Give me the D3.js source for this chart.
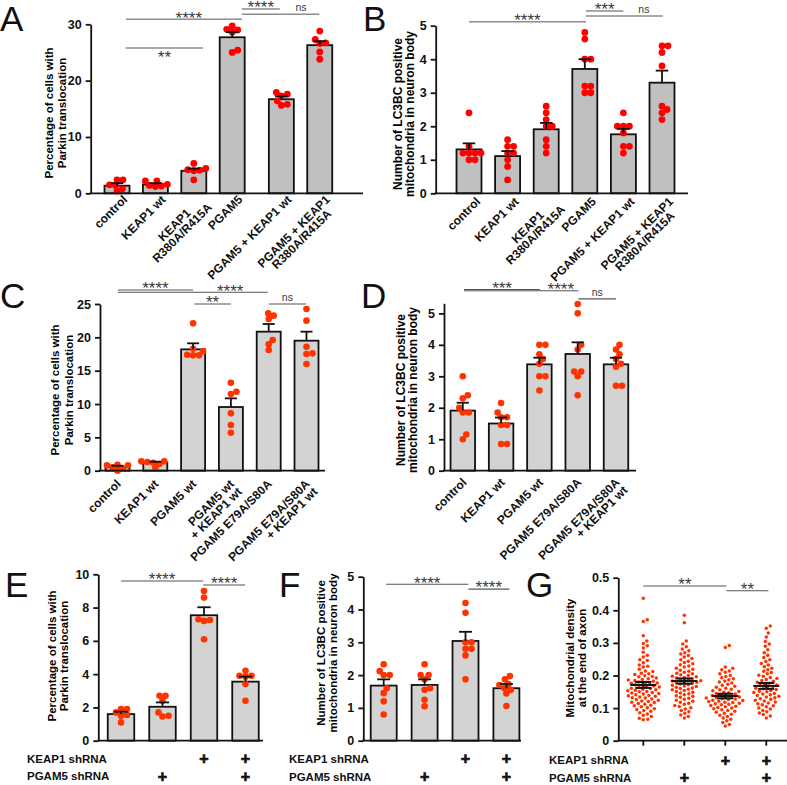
<!DOCTYPE html>
<html>
<head>
<meta charset="utf-8">
<script src="https://cdn.jsdelivr.net/npm/d3@7"></script>
<style>
  body { margin: 0; background: #fff; }
  svg { font-family: "Liberation Sans", Arial, sans-serif; }
</style>
</head>
<body>
<svg width="787" height="785"></svg>
<script>
"use strict";

// ---------- data ----------
var catsAB = ["control", "KEAP1 wt", "KEAP1\nR380A/R415A", "PGAM5", "PGAM5 + KEAP1 wt", "PGAM5 + KEAP1\nR380A/R415A"];
var catsCD = ["control", "KEAP1 wt", "PGAM5 wt", "PGAM5 wt\n+ KEAP1 wt", "PGAM5 E79A/S80A", "PGAM5 E79A/S80A\n+ KEAP1 wt"];
var catsD  = ["control", "KEAP1 wt", "PGAM5 wt", "PGAM5 E79A/S80A", "PGAM5 E79A/S80A\n+ KEAP1 wt"];
var keap1Sh = ["", "", "+", "+"];
var pgam5Sh = ["", "+", "", "+"];

var meanA = [1.35, 1.55, 4.0, 27.7, 16.7, 26.3];
var semA  = [0.45, 0.25, 0.4, 0.9, 0.5, 0.7];
var dotsA = [
  [1.5, 2.4, 2.4, 1.4, 0.8, 0.4],
  [1.6, 2.2, 2.2, 1.4, 1.3, 1.2],
  [4.2, 4.4, 4.1, 5.3, 2.4, 4.0],
  [29.1, 29.0, 28.6, 29.7, 25.4, 25.0],
  [17.3, 17.6, 17.9, 16.4, 15.8, 15.6],
  [28.8, 27.3, 26.7, 26.6, 25.1, 23.8]
];

var meanB = [1.31, 1.11, 1.91, 3.71, 1.76, 3.3];
var semB  = [0.18, 0.15, 0.19, 0.29, 0.16, 0.36];
var dotsB = [
  [2.4, 1.4, 1.2, 1.2, 1.2, 1.2, 1.0, 1.0],
  [1.6, 1.4, 1.4, 1.2, 1.2, 1.0, 0.8, 0.4],
  [2.6, 2.4, 2.2, 2.0, 2.0, 1.6, 1.4, 1.2],
  [4.8, 4.6, 4.0, 4.0, 3.2, 3.2, 3.0, 3.0],
  [2.4, 2.0, 2.0, 2.0, 1.8, 1.4, 1.4, 1.2],
  [4.4, 4.4, 4.2, 3.8, 2.6, 2.5, 2.4, 2.2]
];

var meanC = [0.6, 1.2, 18.2, 9.55, 20.85, 19.5];
var semC  = [0.15, 0.15, 0.9, 1.3, 1.15, 1.35];
var dotsC = [
  [0.9, 0.5, 0.8, 0.3, 0.0, 0.8],
  [1.0, 1.4, 1.3, 1.2, 1.4, 0.4],
  [22.1, 18.3, 17.9, 17.3, 17.3, 17.4],
  [13.2, 11.85, 11.5, 8.6, 6.85, 5.7],
  [23.25, 22.75, 23.6, 19.6, 18.95, 18.1],
  [24.25, 22.5, 18.6, 17.6, 17.5, 16.0]
];

var meanD = [1.91, 1.5, 3.38, 3.71, 3.38];
var semD  = [0.25, 0.19, 0.21, 0.37, 0.21];
var dotsD = [
  [3.0, 2.4, 2.3, 2.0, 1.85, 1.85, 1.15, 1.0],
  [2.15, 1.85, 1.7, 1.7, 1.45, 1.45, 0.85, 0.85],
  [4.0, 4.0, 3.7, 3.55, 3.4, 3.0, 3.0, 2.55],
  [5.3, 5.0, 4.0, 3.85, 3.15, 3.15, 3.0, 2.4],
  [4.0, 3.85, 3.7, 3.55, 3.4, 3.3, 2.7, 2.7]
];

var meanE = [1.6, 2.04, 7.54, 3.55];
var semE  = [0.14, 0.26, 0.48, 0.3];
var dotsE = [
  [1.9, 1.9, 1.7, 1.55, 1.5, 1.1],
  [2.7, 2.7, 2.4, 1.7, 1.5, 1.45],
  [9.0, 8.6, 7.3, 7.25, 7.2, 6.1],
  [4.2, 3.9, 3.9, 3.85, 3.4, 2.4]
];

var meanF = [1.68, 1.7, 3.04, 1.6];
var semF  = [0.19, 0.17, 0.28, 0.13];
var dotsF = [
  [2.33, 2.12, 2.0, 2.0, 1.6, 1.45, 1.2, 0.8],
  [2.33, 2.0, 2.0, 1.87, 1.6, 1.55, 1.25, 1.05],
  [4.2, 3.9, 3.0, 3.0, 2.8, 2.8, 2.6, 1.87],
  [1.97, 1.87, 1.73, 1.7, 1.6, 1.55, 1.44, 1.06]
];

var meanG = [0.171, 0.183, 0.137, 0.168];
var semG  = [0.009, 0.008, 0.007, 0.009];
var dotsG = [
  [0.437, 0.371, 0.366, 0.322, 0.306, 0.298, 0.291, 0.284, 0.271, 0.262, 0.257, 0.248, 0.246, 0.239,
   0.232, 0.228, 0.226, 0.219, 0.214, 0.212, 0.207, 0.205, 0.203, 0.199, 0.197, 0.196, 0.192, 0.19,
   0.188, 0.186, 0.185, 0.182, 0.18, 0.179, 0.177, 0.176, 0.174, 0.172, 0.171, 0.168, 0.166, 0.165,
   0.163, 0.161, 0.16, 0.158, 0.156, 0.155, 0.153, 0.151, 0.15, 0.148, 0.146, 0.145, 0.143, 0.141,
   0.139, 0.138, 0.136, 0.134, 0.132, 0.131, 0.128, 0.126, 0.124, 0.122, 0.12, 0.118, 0.117, 0.114,
   0.112, 0.109, 0.107, 0.104, 0.101, 0.098, 0.096, 0.093, 0.09, 0.086, 0.082, 0.078, 0.074, 0.069,
   0.066, 0.064],
  [0.385, 0.362, 0.306, 0.297, 0.288, 0.281, 0.276, 0.27, 0.266, 0.261, 0.257, 0.252, 0.248, 0.244,
   0.24, 0.236, 0.233, 0.229, 0.226, 0.222, 0.219, 0.216, 0.213, 0.21, 0.207, 0.205, 0.202, 0.2,
   0.198, 0.196, 0.194, 0.192, 0.19, 0.188, 0.186, 0.184, 0.183, 0.181, 0.179, 0.178, 0.176, 0.174,
   0.172, 0.17, 0.168, 0.166, 0.164, 0.162, 0.16, 0.158, 0.156, 0.154, 0.151, 0.149, 0.146, 0.144,
   0.141, 0.138, 0.136, 0.133, 0.13, 0.127, 0.124, 0.121, 0.118, 0.115, 0.112, 0.108, 0.105, 0.101,
   0.097, 0.093, 0.089, 0.084, 0.079, 0.074, 0.07],
  [0.292, 0.286, 0.226, 0.222, 0.218, 0.214, 0.21, 0.205, 0.2, 0.197, 0.193, 0.19, 0.187, 0.183,
   0.18, 0.177, 0.173, 0.17, 0.167, 0.164, 0.161, 0.158, 0.156, 0.153, 0.151, 0.149, 0.147, 0.145,
   0.143, 0.141, 0.139, 0.137, 0.136, 0.134, 0.132, 0.131, 0.129, 0.128, 0.126, 0.124, 0.123, 0.121,
   0.12, 0.118, 0.117, 0.115, 0.113, 0.112, 0.11, 0.108, 0.106, 0.104, 0.102, 0.1, 0.098, 0.095,
   0.093, 0.09, 0.087, 0.084, 0.081, 0.078, 0.074, 0.07, 0.066, 0.061, 0.056, 0.05, 0.045],
  [0.352, 0.345, 0.33, 0.318, 0.304, 0.297, 0.29, 0.279, 0.27, 0.262, 0.255, 0.248, 0.243, 0.237,
   0.232, 0.227, 0.222, 0.218, 0.213, 0.209, 0.205, 0.201, 0.198, 0.194, 0.191, 0.188, 0.185, 0.182,
   0.179, 0.176, 0.174, 0.171, 0.169, 0.166, 0.164, 0.161, 0.159, 0.157, 0.154, 0.152, 0.15, 0.148,
   0.145, 0.143, 0.141, 0.139, 0.136, 0.134, 0.132, 0.129, 0.127, 0.124, 0.122, 0.119, 0.116, 0.113,
   0.11, 0.107, 0.104, 0.1, 0.097, 0.093, 0.089, 0.085, 0.08, 0.076, 0.07]
];

// significance brackets: from / to / text in bar-slot units, y in data units
var sigA = [
  {from: 0.23, to: 3.25, y: 30.9, label: "****", at: 1.87},
  {from: 0.23, to: 2.24, y: 25.8, label: "**", below: true},
  {from: 3.25, to: 4.24, y: 32.7, label: "****"},
  {from: 3.25, to: 5.27, y: 31.8, label: "ns", at: 4.79}
];
var sigB = [
  {from: 0, to: 3.03, y: 5.12, label: "****"},
  {from: 3.03, to: 4.0, y: 5.44, label: "***"},
  {from: 3.03, to: 5.02, y: 5.29, label: "ns", at: 4.53}
];
var sigC = [
  {from: 0.01, to: 2.0, y: 27.1, label: "****"},
  {from: 0.01, to: 3.98, y: 26.76, label: "****", at: 2.98},
  {from: 2.03, to: 3.0, y: 25.0, label: "**"},
  {from: 4.0, to: 4.99, y: 25.0, label: "ns"}
];
var sigD = [
  {from: 0.03, to: 2.02, y: 5.76, label: "***"},
  {from: 0.03, to: 3.02, y: 5.72, label: "****", at: 2.56},
  {from: 3.02, to: 4.0, y: 5.46, label: "ns"}
];
var sigE = [
  {from: 0, to: 1.98, y: 9.6, label: "****"},
  {from: 1.98, to: 2.99, y: 9.36, label: "****"}
];
var sigF = [
  {from: 0.06, to: 2.07, y: 4.77, label: "****"},
  {from: 2.07, to: 3.07, y: 4.62, label: "****"}
];
var sigG = [
  {from: 0, to: 2.03, y: 0.4745, label: "**"},
  {from: 2.03, to: 3.05, y: 0.46, label: "**"}
];

// ---------- drawing ----------
var svg = d3.select("svg");

// simple beeswarm: x offsets so points do not overlap
function swarm(vals, y, minDist) {
  var placed = [], offs = [];
  var order = d3.range(vals.length).sort(function(a, b) { return vals[a] - vals[b]; });
  order.forEach(function(i) {
    var py = y(vals[i]), ox = 0;
    for (var k = 0; k < 400; k++) {
      var c = (k % 2 ? 1 : -1) * Math.ceil(k / 2) * 0.5;
      var hit = placed.some(function(p) {
        var dx = p[0] - c, dy = p[1] - py;
        return dx * dx + dy * dy < minDist * minDist;
      });
      if (!hit) { ox = c; break; }
    }
    placed.push([ox, py]);
    offs[i] = ox;
  });
  return offs;
}

function drawPanel(p) {
  var g = svg.append("g");
  var y = d3.scaleLinear().domain([0, p.yMax]).range([p.y0, p.y1]);
  var x = d3.scaleLinear().domain([0, 1]).range([p.x0, p.x0 + p.step]);
  var slot = function(i) { return i + (p.gapAfter != null && i > p.gapAfter ? p.gap : 0); };

  // panel letter
  g.append("text")
    .attr("x", p.letter[1]).attr("y", p.letter[2])
    .style("font-size", "35px").style("fill", "#111")
    .text(p.letter[0]);

  // y title
  var t = g.append("text")
    .attr("transform", "translate(" + p.title.x + "," + p.title.y + ") rotate(-90)")
    .attr("text-anchor", "middle")
    .style("font-size", p.title.size + "px").style("font-weight", "bold");
  p.title.lines.forEach(function(line, j) {
    t.append("tspan").attr("x", 0).attr("y", j * p.title.lh).text(line);
  });

  var n = p.means.length;

  if (!p.scatter) {
    // bars
    g.selectAll("rect.bar").data(p.means).enter().append("rect")
      .attr("x", function(d, i) { return x(slot(i)) - p.barW / 2; })
      .attr("y", function(d) { return y(d); })
      .attr("width", p.barW)
      .attr("height", function(d) { return y(0) - y(d); })
      .attr("fill", p.fill)
      .attr("stroke", "#111")
      .attr("stroke-width", 1.8);
  }

  // dots
  p.dots.forEach(function(vals, i) {
    var offs = swarm(vals, y, p.r * 2 * p.pack);
    g.append("g").selectAll("circle").data(vals).enter().append("circle")
      .attr("cx", function(d, k) { return x(slot(i)) + offs[k]; })
      .attr("cy", function(d) { return y(d); })
      .attr("r", p.r)
      .attr("fill", p.dotColor);
  });

  // error bars
  p.means.forEach(function(m, i) {
    var cx = x(slot(i)), s = p.sems[i];
    var eg = g.append("g").attr("stroke", "#111").attr("stroke-width", p.scatter ? 2 : 1.8);
    if (p.scatter) {
      eg.append("line").attr("x1", cx - 13).attr("x2", cx + 13).attr("y1", y(m)).attr("y2", y(m));
      eg.append("line").attr("x1", cx).attr("x2", cx).attr("y1", y(m - s)).attr("y2", y(m + s));
      [m - s, m + s].forEach(function(v) {
        eg.append("line").attr("x1", cx - 8).attr("x2", cx + 8).attr("y1", y(v)).attr("y2", y(v));
      });
    } else {
      eg.append("line").attr("x1", cx).attr("x2", cx).attr("y1", y(m)).attr("y2", y(m + s));
      eg.append("line").attr("x1", cx - p.barW / 4).attr("x2", cx + p.barW / 4)
        .attr("y1", y(m + s)).attr("y2", y(m + s));
    }
  });

  // y axis
  var ya = g.append("g")
    .attr("transform", "translate(" + p.axisX + ",0)")
    .call(d3.axisLeft(y).tickValues(p.ticks).tickSize(5).tickSizeOuter(0).tickPadding(4)
      .tickFormat(p.fmt || d3.format("d")));
  ya.selectAll("path, line").attr("stroke", "#111").attr("stroke-width", 1.8);
  ya.selectAll("text").style("font-size", "12.5px").style("font-weight", "bold").attr("fill", "#111");

  // x axis line
  g.append("line")
    .attr("x1", p.axisX - 0.9).attr("x2", p.xEnd)
    .attr("y1", y(0)).attr("y2", y(0))
    .attr("stroke", "#111").attr("stroke-width", 1.8);

  if (p.scatter) {
    d3.range(n).forEach(function(i) {
      g.append("line").attr("x1", x(i)).attr("x2", x(i))
        .attr("y1", y(0)).attr("y2", y(0) + 5)
        .attr("stroke", "#111").attr("stroke-width", 1.8);
    });
  }

  // category labels
  if (p.cats) {
    p.cats.forEach(function(c, i) {
      var lines = c.split("\n");
      var lg = g.append("g")
        .attr("transform", "translate(" + (x(slot(i)) + p.lab[0]) + "," + (y(0) + p.lab[1]) + ") rotate(-45)");
      var texts = lines.map(function(line, j) {
        return lg.append("text").attr("y", j * 11)
          .style("font-size", "12px").style("font-weight", "bold").attr("fill", "#111")
          .text(line);
      });
      var w = d3.max(texts, function(tx) { return tx.node().getComputedTextLength(); });
      texts.forEach(function(tx) {
        if (p.labAlign === "middle") tx.attr("text-anchor", "middle").attr("x", -w / 2);
        else tx.attr("text-anchor", "end");
      });
    });
  }

  // shRNA rows
  if (p.rows) {
    [[ "KEAP1 shRNA", keap1Sh ], [ "PGAM5 shRNA", pgam5Sh ]].forEach(function(row, r) {
      var cy = p.rows.y[r];
      g.append("text").attr("x", p.rows.x).attr("y", cy + 4.2)
        .style("font-size", "11.5px").style("font-weight", "bold").attr("fill", "#111")
        .text(row[0]);
      row[1].forEach(function(s, i) {
        if (!s) return;
        g.append("text").attr("x", x(i)).attr("y", cy + 5.5)
          .attr("text-anchor", "middle")
          .style("font-size", "16px").style("font-weight", "bold")
          .attr("fill", "#111").attr("stroke", "#111").attr("stroke-width", 0.7)
          .text(s);
      });
    });
  }

  // significance brackets
  p.sig.forEach(function(s) {
    var ly = y(s.y);
    g.append("line")
      .attr("x1", x(s.from)).attr("x2", x(s.to))
      .attr("y1", ly).attr("y2", ly)
      .attr("stroke", p.sigColor).attr("stroke-width", p.sigW);
    var tx = x(s.at != null ? s.at : (s.from + s.to) / 2);
    var isNs = s.label === "ns";
    g.append("text")
      .attr("x", tx)
      .attr("y", isNs ? ly - 3 : (s.below ? ly + 15.5 : ly + 4.3))
      .attr("text-anchor", "middle")
      .style("font-size", isNs ? "10.5px" : "17px")
      .attr("fill", "#3a3a3a")
      .text(s.label);
  });
}

drawPanel({
  letter: ["A", 0, 31], means: meanA, sems: semA, dots: dotsA, cats: catsAB, sig: sigA,
  yMax: 30, y0: 193.3, y1: 24.3, ticks: [0, 10, 20, 30],
  axisX: 90.7, xEnd: 363, x0: 117, step: 38.4, gapAfter: 3, gap: 0.28,
  barW: 25, fill: "#c0c0c0", dotColor: "#ff0000", r: 3.4, pack: 0.85,
  lab: [11, 7], labAlign: "middle", sigColor: "#8c8c8c", sigW: 1.5,
  title: {x: 53, y: 113, lh: 13, size: 11.5, lines: ["Percentage of cells with", "Parkin translocation"]}
});

drawPanel({
  letter: ["B", 363, 31], means: meanB, sems: semB, dots: dotsB, cats: catsAB, sig: sigB,
  yMax: 5, y0: 193.3, y1: 25.7, ticks: [0, 1, 2, 3, 4, 5],
  axisX: 435.7, xEnd: 688, x0: 469, step: 38.6,
  barW: 25, fill: "#c0c0c0", dotColor: "#ff0000", r: 3.4, pack: 0.85,
  lab: [12, 9], labAlign: "middle", sigColor: "#8c8c8c", sigW: 1.5,
  title: {x: 402, y: 114, lh: 12, size: 12, lines: ["Number of LC3BC positive", "mitochondria in neuron body"]}
});

drawPanel({
  letter: ["C", 0, 308], means: meanC, sems: semC, dots: dotsC, cats: catsCD, sig: sigC,
  yMax: 25, y0: 470.7, y1: 304, ticks: [0, 5, 10, 15, 20, 25],
  axisX: 100, xEnd: 325, x0: 117.5, step: 37.8,
  barW: 24, fill: "#d3d3d3", dotColor: "#ff3300", r: 3.3, pack: 0.85,
  lab: [4, 14], labAlign: "end", sigColor: "#555", sigW: 1.1,
  title: {x: 59, y: 390, lh: 13.5, size: 11.5, lines: ["Percentage of cells with", "Parkin translocation"]}
});

drawPanel({
  letter: ["D", 361, 308], means: meanD, sems: semD, dots: dotsD, cats: catsD, sig: sigD,
  yMax: 5.32, y0: 470.7, y1: 303.3, ticks: [0, 1, 2, 3, 4, 5],
  axisX: 444, xEnd: 636, x0: 462.8, step: 38.3,
  barW: 24.5, fill: "#d3d3d3", dotColor: "#ff3300", r: 3.3, pack: 0.85,
  lab: [4.5, 12.5], labAlign: "end", sigColor: "#555", sigW: 1.1,
  title: {x: 405, y: 390, lh: 12, size: 12, lines: ["Number of LC3BC positive", "mitochondria in neuron body"]}
});

drawPanel({
  letter: ["E", 5, 597], means: meanE, sems: semE, dots: dotsE, sig: sigE,
  yMax: 10, y0: 740.7, y1: 574.3, ticks: [0, 2, 4, 6, 8, 10],
  axisX: 98.3, xEnd: 263, x0: 121, step: 41.5,
  barW: 26.5, fill: "#d3d3d3", dotColor: "#ff3300", r: 3.3, pack: 0.85,
  rows: {x: 27, y: [758.3, 776]}, sigColor: "#555", sigW: 1.1,
  title: {x: 56, y: 656, lh: 11.5, size: 11.5, lines: ["Percentage of cells with", "Parkin translocation"]}
});

drawPanel({
  letter: ["F", 279, 597], means: meanF, sems: semF, dots: dotsF, sig: sigF,
  yMax: 5, y0: 740.7, y1: 576.7, ticks: [0, 1, 2, 3, 4, 5],
  axisX: 363.3, xEnd: 521, x0: 383.7, step: 40.9,
  barW: 26, fill: "#d3d3d3", dotColor: "#ff3300", r: 3.3, pack: 0.85,
  rows: {x: 289, y: [758.3, 776.5]}, sigColor: "#555", sigW: 1.1,
  title: {x: 325, y: 653, lh: 12, size: 11.5, lines: ["Number of LC3BC positive", "mitochondria in neuron body"]}
});

drawPanel({
  letter: ["G", 526, 597], means: meanG, sems: semG, dots: dotsG, sig: sigG, scatter: true,
  yMax: 0.5, y0: 740.7, y1: 577.7, ticks: [0, 0.1, 0.2, 0.3, 0.4, 0.5], fmt: function(d) { return d === 0 ? "0" : d3.format(".1f")(d); },
  axisX: 618.3, xEnd: 787, x0: 643.3, step: 41,
  dotColor: "#ff3300", r: 1.75, pack: 1.2,
  rows: {x: 549, y: [760, 777.5]}, sigColor: "#555", sigW: 1.1,
  title: {x: 574, y: 658, lh: 11.5, size: 11.5, lines: ["Mitochondrial density", "at the end of axon"]}
});
</script>
</body>
</html>
